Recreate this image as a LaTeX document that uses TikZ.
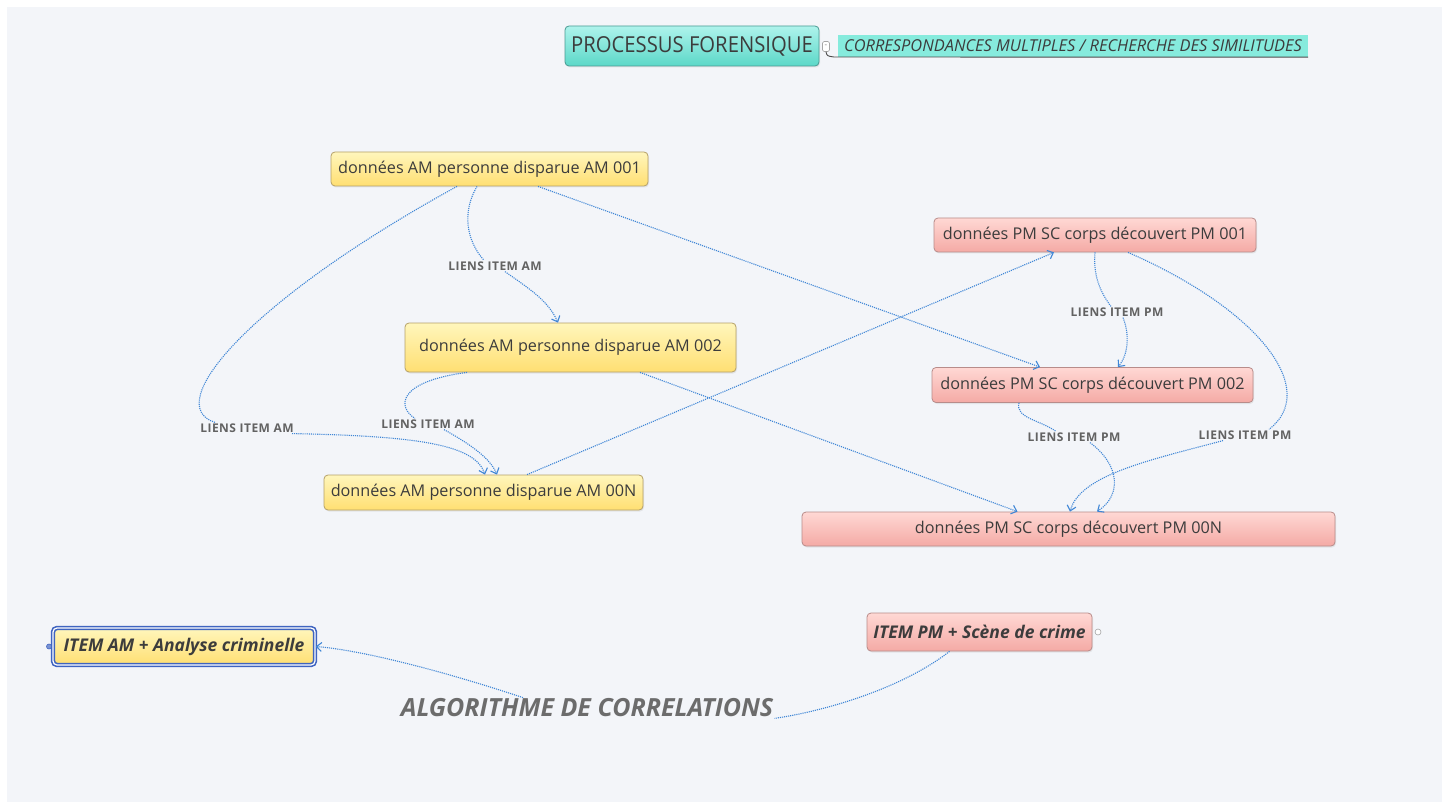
\documentclass[tikz,border=0pt]{standalone}
\usepackage{fontspec}
\setmainfont{Open Sans}
\newfontfamily\condf[FakeStretch=0.92]{Open Sans}
\newfontfamily\lblf[LetterSpace=4]{Open Sans}
\usetikzlibrary{arrows.meta,shadows}
\definecolor{bgc}{HTML}{F3F5F9}
\definecolor{yelT}{HTML}{FFF6BC}
\definecolor{yelB}{HTML}{FFDF72}
\definecolor{yelD}{HTML}{B5A068}
\definecolor{pinkT}{HTML}{FFD8D4}
\definecolor{pinkB}{HTML}{F4AAA5}
\definecolor{pinkD}{HTML}{B88C8A}
\definecolor{tealT}{HTML}{AEF3EC}
\definecolor{tealB}{HTML}{5CD8C8}
\definecolor{tealD}{HTML}{4A9A92}
\definecolor{subc}{HTML}{86EBDD}
\definecolor{linkc}{HTML}{3F86D6}
\definecolor{txt}{HTML}{3C3C3C}
\definecolor{lbl}{HTML}{626262}
\definecolor{itemb}{HTML}{3F64C0}
\tikzset{
  box/.style={rounded corners=4pt, inner sep=0pt, line width=0.8pt, text=txt,
    font=\fontsize{16.2}{19}\selectfont,
    drop shadow={opacity=0.14, shadow xshift=1pt, shadow yshift=-1.5pt}},
  am/.style={box, draw=yelD, top color=yelT, bottom color=yelB},
  pm/.style={box, draw=pinkD, top color=pinkT, bottom color=pinkB},
  lnk/.style={draw=linkc, line width=1.1pt, dash pattern=on 1.1pt off 1pt},
  arr/.style={lnk, -{Straight Barb[length=5pt,width=9pt,line width=1.1pt]}},
  lblnode/.style={inner sep=1pt, text=lbl, font=\lblf\bfseries\fontsize{12}{14}\selectfont},
  knob/.style={circle, draw=gray!70, fill=white, inner sep=0pt, minimum size=6pt, line width=0.6pt}
}
\begin{document}
\begin{tikzpicture}[x=1pt,y=-1pt]
\useasboundingbox (0,0) rectangle (1448,802);
\fill[white] (0,0) rectangle (1448,802);
\fill[bgc] (7,7) rectangle (1442,802);

% title
\node[box, draw=tealD, top color=tealT, bottom color=tealB, minimum width=254pt, minimum height=40pt,
  font=\condf\fontsize{22}{26}\selectfont] (pf) at (692,46) {PROCESSUS FORENSIQUE};
\node[rounded corners=1.5pt, draw=gray!70, fill=white, inner sep=0pt, minimum width=7pt, minimum height=10pt,
  line width=0.6pt, font=\fontsize{8}{8}\selectfont, text=gray] (pfk) at (826,46.5) {-};
\node[fill=subc, inner sep=0pt, minimum width=470pt, minimum height=22pt, text=txt,
  font=\itshape\fontsize{16.4}{18}\selectfont] (sub) at (1073,46) {CORRESPONDANCES MULTIPLES / RECHERCHE DES SIMILITUDES};
\draw[draw=gray!60!black, line width=0.9pt] (pfk.south) .. controls (827,56) .. (834,57) -- (sub.south east);

% AM nodes
\node[am, minimum width=317pt, minimum height=34pt] (am1) at (489.5,169) {données AM personne disparue AM 001};
\node[am, minimum width=331pt, minimum height=49pt] (am2) at (570.5,347.5) {données AM personne disparue AM 002};
\node[am, minimum width=319pt, minimum height=35pt] (am3) at (483.5,492.5) {données AM personne disparue AM 00N};
% PM nodes
\node[pm, minimum width=322pt, minimum height=34pt] (pm1) at (1095,235) {données PM SC corps découvert PM 001};
\node[pm, minimum width=321pt, minimum height=35pt] (pm2) at (1092.5,385) {données PM SC corps découvert PM 002};
\node[pm, minimum width=533pt, minimum height=34pt] (pm3) at (1068.5,529) {données PM SC corps découvert PM 00N};

% labels
\node[lblnode] (l1) at (495,266) {LIENS ITEM AM};
\node[lblnode] (l2) at (247,428) {LIENS ITEM AM};
\node[lblnode] (l3) at (428,424) {LIENS ITEM AM};
\node[lblnode] (l4) at (1117,312) {LIENS ITEM PM};
\node[lblnode] (l5) at (1074,437) {LIENS ITEM PM};
\node[lblnode] (l6) at (1245,435) {LIENS ITEM PM};

% AM links
\draw[lnk] ([xshift=-12.5pt]am1.south) .. controls (462,212) and (466,240) .. ([xshift=-11pt]l1.north);
\draw[arr] ([xshift=10pt]l1.south) .. controls (528,288) and (548,300) .. ([xshift=-12.5pt]am2.north);
\draw[lnk] ([xshift=-32.5pt]am1.south) .. controls (250,300) and (160,405) .. ([xshift=-32pt]l2.north);
\draw[arr] ([xshift=45pt]l2.south) .. controls (420,436) and (475,445) .. ([xshift=1.5pt]am3.north);
\draw[lnk] ([xshift=-103.5pt]am2.south) .. controls (395,382) and (398,408) .. ([xshift=-13pt]l3.north);
\draw[arr] ([xshift=16pt]l3.south) .. controls (470,444) and (490,458) .. ([xshift=13.5pt]am3.north);
\draw[arr] ([xshift=48.5pt]am1.south) -- ([xshift=-52.5pt]pm2.north);
\draw[arr] ([xshift=69.5pt]am2.south) -- ([xshift=-51pt]pm3.north);
\draw[arr] ([xshift=43.5pt]am3.north) -- ([xshift=-41pt]pm1.south);

% PM links
\draw[lnk] ([xshift=0pt]pm1.south) .. controls (1093,275) and (1100,292) .. ([xshift=-6pt]l4.north);
\draw[arr] ([xshift=6pt]l4.south) .. controls (1130,335) and (1128,355) .. ([xshift=25.5pt]pm2.north);
\draw[lnk] ([xshift=33pt]pm1.south) .. controls (1260,310) and (1320,390) .. ([xshift=24pt]l6.north);
\draw[arr] ([xshift=-22pt]l6.south) .. controls (1150,460) and (1080,475) .. ([xshift=1.5pt]pm3.north);
\draw[lnk] ([xshift=-73.5pt]pm2.south) .. controls (1015,418) and (1040,420) .. ([xshift=-18pt]l5.north);
\draw[arr] ([xshift=16pt]l5.south) .. controls (1120,465) and (1122,495) .. ([xshift=28.5pt]pm3.north);

% bottom
\node[box, draw=itemb, line width=1.6pt, double=white, double distance=1.2pt, top color=yelT, bottom color=yelB,
  minimum width=262pt, minimum height=37pt, font=\bfseries\itshape\fontsize{17.5}{20}\selectfont] (iam) at (184,646.5) {ITEM AM + Analyse criminelle};
\node[knob, fill=itemb!70, draw=itemb, minimum size=5pt] (iamk) at (49,646.5) {};
\node[pm, minimum width=225pt, minimum height=38pt, font=\bfseries\itshape\fontsize{17.5}{20}\selectfont] (ipm) at (979.5,632) {ITEM PM + Scène de crime};
\node[knob, minimum size=6pt] (ipmk) at (1098,632) {};
\node[inner sep=1pt, text=gray!85!black, font=\bfseries\itshape\fontsize{25}{29}\selectfont] (algo) at (587,708) {ALGORITHME DE CORRELATIONS};
\draw[arr] ([xshift=-64pt]algo.north) .. controls (440,670) and (360,650) .. (iam.east);
\draw[lnk] ([xshift=-30pt]ipm.south) .. controls (900,690) and (820,712) .. (algo.south east);
\end{tikzpicture}
\end{document}
